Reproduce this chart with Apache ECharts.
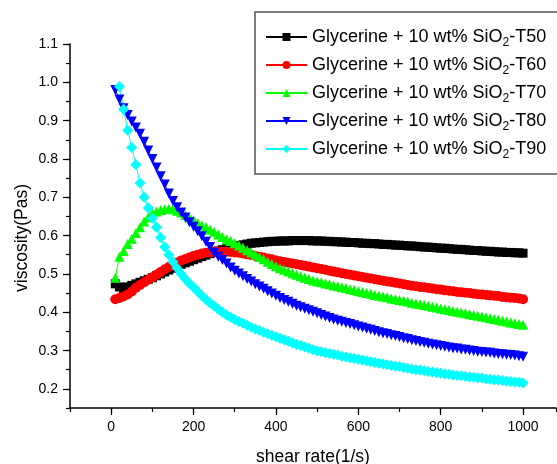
<!DOCTYPE html>
<html>
<head>
<meta charset="utf-8">
<script src="https://cdn.jsdelivr.net/npm/echarts@6/dist/echarts.min.js"></script>
<style>
    html, body { margin: 0; padding: 0; background: #fff; }
    #main { width: 557px; height: 464px; }
</style>
</head>
<body>
<div id="main"></div>
<script>
// shear rate (1/s)
var shearRate = [10,20,30,40,50,60,70,80,90,100,110,120,130,140,150,160,170,180,190,200,
    210,220,230,240,250,260,270,280,290,300,310,320,330,340,350,360,370,380,390,400,
    410,420,430,440,450,460,470,480,490,500,510,520,530,540,550,560,570,580,590,600,
    610,620,630,640,650,660,670,680,690,700,710,720,730,740,750,760,770,780,790,800,
    810,820,830,840,850,860,870,880,890,900,910,920,930,940,950,960,970,980,990,1000];

var t50 = [.474,.466,.462,.466,.470,.474,.478,.482,.486,.490,.495,.500,.505,.510,.515,.520,.525,.529,.533,.537,
    .541,.545,.549,.553,.557,.560,.563,.566,.569,.572,.574,.576,.578,.580,.581,.582,.583,.584,.585,.585,
    .586,.586,.586,.587,.587,.587,.587,.587,.586,.586,.586,.585,.585,.584,.584,.583,.583,.582,.582,.581,
    .580,.580,.579,.579,.578,.577,.577,.576,.575,.575,.574,.573,.573,.572,.571,.570,.570,.569,.568,.567,
    .567,.566,.565,.564,.564,.563,.562,.561,.561,.560,.559,.559,.558,.557,.557,.556,.556,.555,.555,.554];

var t60 = [.434,.437,.441,.446,.454,.464,.471,.478,.485,.491,.498,.505,.512,.518,.524,.530,.535,.539,.543,.547,
    .550,.553,.555,.556,.557,.558,.558,.558,.557,.556,.555,.553,.551,.549,.547,.545,.543,.540,.538,.535,
    .533,.531,.529,.527,.525,.523,.521,.519,.517,.515,.513,.511,.508,.506,.504,.502,.500,.498,.496,.494,
    .492,.490,.488,.486,.484,.482,.480,.479,.477,.475,.473,.471,.469,.468,.466,.465,.463,.462,.460,.459,
    .457,.456,.455,.453,.452,.451,.450,.448,.447,.446,.445,.444,.443,.442,.440,.439,.438,.437,.436,.434];

var t70 = [.490,.545,.560,.578,.592,.607,.622,.637,.648,.657,.663,.667,.669,.670,.669,.665,.660,.654,.647,.640,
    .633,.627,.622,.616,.610,.603,.596,.590,.586,.580,.574,.568,.562,.556,.550,.544,.538,.532,.526,.520,
    .515,.511,.506,.502,.498,.494,.490,.487,.483,.480,.478,.475,.473,.470,.468,.465,.463,.460,.458,.455,
    .453,.450,.448,.445,.443,.441,.439,.436,.434,.432,.430,.428,.425,.423,.421,.419,.417,.414,.412,.410,
    .408,.406,.403,.401,.399,.397,.395,.393,.391,.389,.387,.384,.382,.380,.378,.376,.373,.371,.369,.367];

var t80 = [.980,.955,.932,.915,.898,.882,.866,.845,.822,.800,.778,.755,.733,.710,.690,.674,.660,.647,.635,.623,
    .611,.598,.584,.570,.555,.545,.536,.527,.517,.508,.501,.494,.487,.480,.473,.467,.461,.455,.449,.443,
    .437,.432,.427,.422,.417,.413,.409,.405,.401,.397,.393,.389,.385,.381,.378,.375,.372,.369,.366,.363,
    .360,.357,.354,.351,.348,.345,.343,.340,.338,.335,.332,.330,.327,.325,.322,.320,.318,.316,.314,.312,
    .310,.308,.306,.305,.303,.302,.300,.299,.297,.296,.295,.294,.292,.291,.290,.289,.288,.287,.285,.284];

var t90 = [null,.989,.930,.875,.830,.785,.737,.700,.672,.645,.622,.595,.570,.550,.532,.515,.500,.487,.475,.465,
    .454,.443,.433,.424,.416,.408,.400,.393,.387,.381,.376,.371,.366,.361,.356,.352,.348,.344,.340,.336,
    .332,.328,.324,.320,.316,.313,.309,.306,.302,.299,.297,.294,.292,.290,.288,.285,.283,.281,.279,.277,
    .275,.273,.271,.269,.267,.265,.263,.261,.259,.258,.256,.254,.252,.250,.249,.247,.245,.244,.242,.241,
    .239,.238,.236,.235,.234,.232,.231,.230,.229,.228,.226,.225,.224,.223,.222,.220,.219,.218,.217,.215];

var seriesNames = ['Glycerine + 10 wt% SiO2-T50', 'Glycerine + 10 wt% SiO2-T60', 'Glycerine + 10 wt% SiO2-T70',
    'Glycerine + 10 wt% SiO2-T80', 'Glycerine + 10 wt% SiO2-T90'];
var seriesValues = [t50, t60, t70, t80, t90];
var colors = ['#000000', '#ff0000', '#00ff00', '#0000ff', '#00ffff'];
var symbols = ['rect', 'circle', 'triangle', 'triangle', 'diamond'];
var symbolSizes = [9, 10, 10, 10, 11];
var symbolRotates = [0, 0, 0, 180, 0];

var font = '"Liberation Sans", Arial, sans-serif';

function pairs(vals) {
    return shearRate.map(function (x, i) { return [x, vals[i]]; });
}

var myChart = echarts.init(document.getElementById('main'));

var series = seriesNames.map(function (name, i) {
    return {
        name: name,
        type: 'line',
        xAxisIndex: 0,
        yAxisIndex: 0,
        data: pairs(seriesValues[i]),
        symbol: symbols[i],
        symbolSize: symbolSizes[i],
        symbolRotate: symbolRotates[i],
        showAllSymbol: true,
        connectNulls: true,
        animation: false,
        lineStyle: { color: colors[i], width: 1 },
        itemStyle: { color: colors[i] }
    };
});

var option = {
    backgroundColor: '#ffffff',
    textStyle: { fontFamily: font },
    grid: [
        // main plot area (minor ticks)
        { left: 70, right: 1, top: 44, bottom: 56, containLabel: false, outerBoundsMode: 'none' },
        // major ticks + labels, starting at x=0 / y=0.2
        { left: 111.2, right: 1, top: 44, bottom: 75, containLabel: false, outerBoundsMode: 'none' }
    ],
    legend: {
        orient: 'vertical',
        left: 255,
        top: 12,
        padding: [16, 14, 13, 10],
        itemWidth: 41,
        itemHeight: 10,
        itemGap: 7,
        borderColor: '#555',
        borderWidth: 1.5,
        data: seriesNames,
        formatter: function (name) {
            var p = name.split('SiO2');
            return '{a|' + p[0] + 'SiO}{sub|2}{a|' + p[1] + '}';
        },
        textStyle: {
            color: '#000',
            fontFamily: font,
            rich: {
                a: { fontSize: 18, fontFamily: font, color: '#000', height: 19 },
                sub: { fontSize: 12, fontFamily: font, color: '#000', padding: [12, 0, 0, 0] }
            }
        }
    },
    graphic: [{
        type: 'text',
        x: 22,
        y: 238,
        rotation: Math.PI / 2,
        style: {
            text: 'viscosity(Pas)',
            fontSize: 17.5,
            fontFamily: font,
            fill: '#000',
            align: 'center',
            verticalAlign: 'middle'
        }
    }],
    xAxis: [{
        type: 'value',
        gridIndex: 0,
        min: -100,
        max: 1080,
        interval: 100,
        name: 'shear rate(1/s)',
        nameLocation: 'middle',
        nameGap: 40,
        nameTextStyle: { fontSize: 17.5, color: '#000', fontFamily: font },
        axisLine: { show: true, onZero: false, lineStyle: { color: '#000', width: 1.5 } },
        axisTick: { show: true, length: 4, lineStyle: { color: '#000', width: 1.2 } },
        axisLabel: { show: false },
        splitLine: { show: false }
    }, {
        type: 'value',
        gridIndex: 1,
        min: 0,
        max: 1080,
        interval: 200,
        offset: 19,
        axisLine: { show: false, onZero: false },
        axisTick: { show: true, length: 7, lineStyle: { color: '#000', width: 1.2 } },
        axisLabel: {
            fontSize: 14, color: '#000', fontFamily: font, margin: 12, showMaxLabel: false,
            formatter: function (v) { return String(v); }
        },
        splitLine: { show: false }
    }],
    yAxis: [{
        type: 'value',
        gridIndex: 0,
        min: 0.15,
        max: 1.1,
        interval: 0.05,
        axisLine: { show: true, onZero: false, lineStyle: { color: '#000', width: 1.5 } },
        axisTick: { show: true, length: 4, lineStyle: { color: '#000', width: 1.2 } },
        axisLabel: { show: false },
        splitLine: { show: false }
    }, {
        type: 'value',
        gridIndex: 1,
        min: 0.2,
        max: 1.1,
        interval: 0.1,
        offset: 41.2,
        axisLine: { show: false, onZero: false },
        axisTick: { show: true, length: 7, lineStyle: { color: '#000', width: 1.2 } },
        axisLabel: {
            fontSize: 14, color: '#000', fontFamily: font, margin: 12,
            formatter: function (v) { return v.toFixed(1); }
        },
        splitLine: { show: false }
    }],
    series: series
};

myChart.setOption(option, true);
</script>
</body>
</html>
